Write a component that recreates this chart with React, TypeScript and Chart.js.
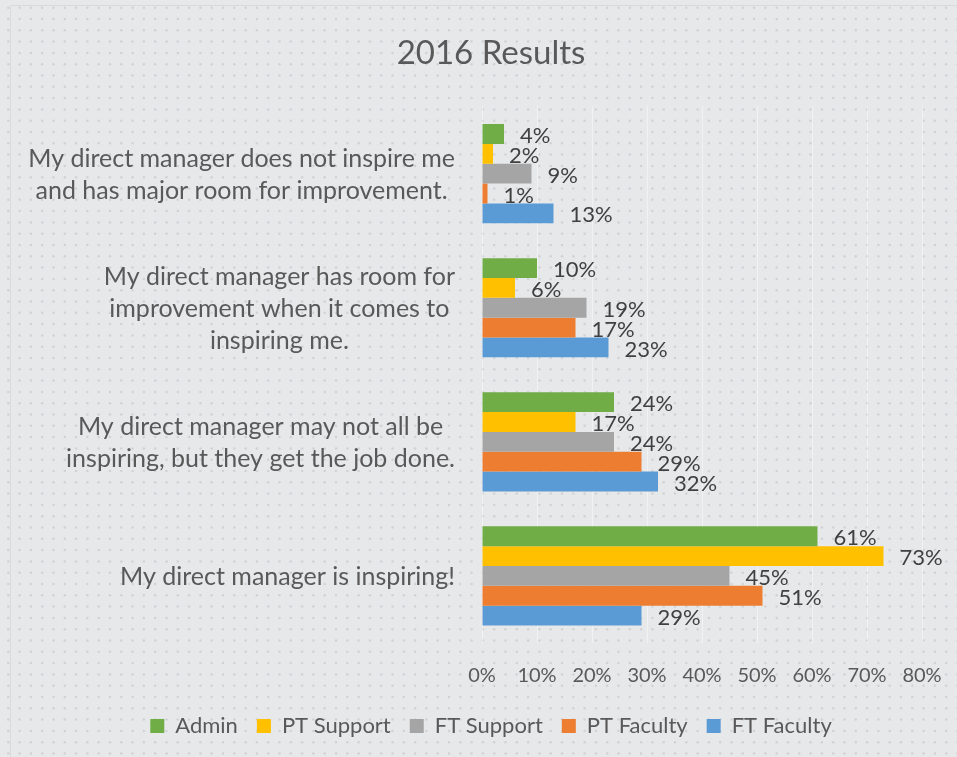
import React, { useEffect, useRef } from "react";
import { Chart, registerables } from "chart.js";

Chart.register(...registerables);

const categories: string[][] = [
  ["My direct manager does not inspire me", "and has major room for improvement."],
  ["My direct manager has room for", "improvement when it comes to", "inspiring me."],
  ["My direct manager may not all be", "inspiring, but they get the job done."],
  ["My direct manager is inspiring!"],
];
const seriesNames = ["Admin", "PT Support", "FT Support", "PT Faculty", "FT Faculty"];
const seriesColors = ["#70ad47", "#ffc000", "#a5a5a5", "#ed7d31", "#5b9bd5"];
const admin = [4, 10, 24, 61];
const ptSupport = [2, 6, 17, 73];
const ftSupport = [9, 19, 24, 45];
const ptFaculty = [1, 17, 29, 51];
const ftFaculty = [13, 23, 32, 29];
const seriesValues = [admin, ptSupport, ftSupport, ptFaculty, ftFaculty];
const xTicks = [0, 10, 20, 30, 40, 50, 60, 70, 80];

const FONT = "Lato";
const TEXT = "#595959";
const LABEL = "#404040";

const backgroundPlugin = {
  id: "bgPattern",
  beforeDraw(chart: any) {
    const { ctx, width, height } = chart;
    ctx.save();
    ctx.fillStyle = "#e7e8ea";
    ctx.fillRect(0, 0, width, height);
    ctx.fillStyle = "#d1d2d5";
    for (let y = 7.7; y < height; y += 11.3) {
      for (let x = 8.3; x < width; x += 11.3) {
        ctx.beginPath();
        ctx.arc(x, y, 1.25, 0, Math.PI * 2);
        ctx.fill();
      }
    }
    ctx.strokeStyle = "#d9dadc";
    ctx.lineWidth = 1;
    ctx.beginPath();
    ctx.moveTo(10.5, height);
    ctx.lineTo(10.5, 5.5);
    ctx.lineTo(width, 5.5);
    ctx.stroke();
    ctx.restore();
  },
};

const categoryLabelPlugin = {
  id: "catLabels",
  afterDraw(chart: any) {
    const { ctx, chartArea } = chart;
    const yScale = chart.scales.y;
    ctx.save();
    ctx.font = `25px ${FONT}`;
    ctx.fillStyle = TEXT;
    ctx.textAlign = "center";
    ctx.textBaseline = "middle";
    const lh = 32;
    categories.forEach((lines, j) => {
      const yc = yScale.getPixelForValue(j);
      const widest = Math.max(...lines.map((l) => ctx.measureText(l).width));
      const cx = chartArea.left - 27 - widest / 2;
      const y0 = yc - ((lines.length - 1) * lh) / 2;
      lines.forEach((l, k) => ctx.fillText(l, cx, y0 + k * lh + 1));
    });
    ctx.restore();
  },
};

const dataLabelPlugin = {
  id: "dataLabels",
  afterDatasetsDraw(chart: any) {
    const { ctx } = chart;
    ctx.save();
    ctx.font = `22px ${FONT}`;
    ctx.fillStyle = LABEL;
    ctx.textAlign = "left";
    ctx.textBaseline = "middle";
    chart.data.datasets.forEach((ds: any, i: number) => {
      const meta = chart.getDatasetMeta(i);
      meta.data.forEach((bar: any, j: number) => {
        ctx.fillText(`${ds.data[j]}%`, bar.x + 16, bar.y + 2);
      });
    });
    ctx.restore();
  },
};

export default function App() {
  const ref = useRef<HTMLCanvasElement>(null);
  useEffect(() => {
    if (!ref.current) return;
    const chart = new Chart(ref.current, {
      type: "bar",
      data: {
        labels: categories.map((c) => c.join(" ")),
        datasets: seriesNames.map((name, i) => ({
          label: name,
          data: seriesValues[i],
          backgroundColor: seriesColors[i],
          borderWidth: 0,
          categoryPercentage: 0.74,
          barPercentage: 1,
        })),
      },
      options: {
        indexAxis: "y",
        animation: false,
        responsive: false,
        layout: { padding: { left: 10, top: 5, right: 0, bottom: 10 } },
        scales: {
          x: {
            min: 0,
            max: 80,
            afterBuildTicks: (scale: any) => {
              scale.ticks = xTicks.map((v) => ({ value: v }));
            },
            afterFit: (scale: any) => {
              scale.height = scale.height - 13;
            },
            ticks: {
              callback: (v: any) => `${v}%`,
              font: { family: FONT, size: 20 },
              color: TEXT,
              padding: 21,
            },
            grid: { color: "rgba(255,255,255,0.45)", drawTicks: false },
            border: { display: false },
          },
          y: {
            type: "category",
            ticks: { display: false },
            grid: { display: false },
            border: { display: false },
            afterFit: (scale: any) => {
              scale.width = 472;
            },
          },
          y2: {
            type: "category",
            position: "right",
            ticks: { display: false },
            grid: { display: false },
            border: { display: false },
            afterFit: (scale: any) => {
              scale.width = 50;
            },
          },
        },
        plugins: {
          title: {
            display: true,
            text: "2016 Results",
            color: TEXT,
            font: { family: FONT, size: 33, weight: "normal" },
            padding: { top: 29, bottom: 33 },
          },
          legend: {
            position: "bottom",
            labels: {
              boxWidth: 14,
              boxHeight: 14,
              padding: 19,
              color: TEXT,
              font: { family: FONT, size: 22 },
            },
          },
          tooltip: { enabled: false },
        },
      },
      plugins: [backgroundPlugin, categoryLabelPlugin, dataLabelPlugin],
    } as any);
    return () => chart.destroy();
  }, []);
  return (
    <div
      style={{
        position: "fixed",
        left: 0,
        top: 0,
        width: 957,
        height: 757,
        overflow: "hidden",
        background: "#e7e8ea",
      }}
    >
      <canvas ref={ref} width={972} height={757} style={{ width: 972, height: 757, display: "block" }} />
    </div>
  );
}
